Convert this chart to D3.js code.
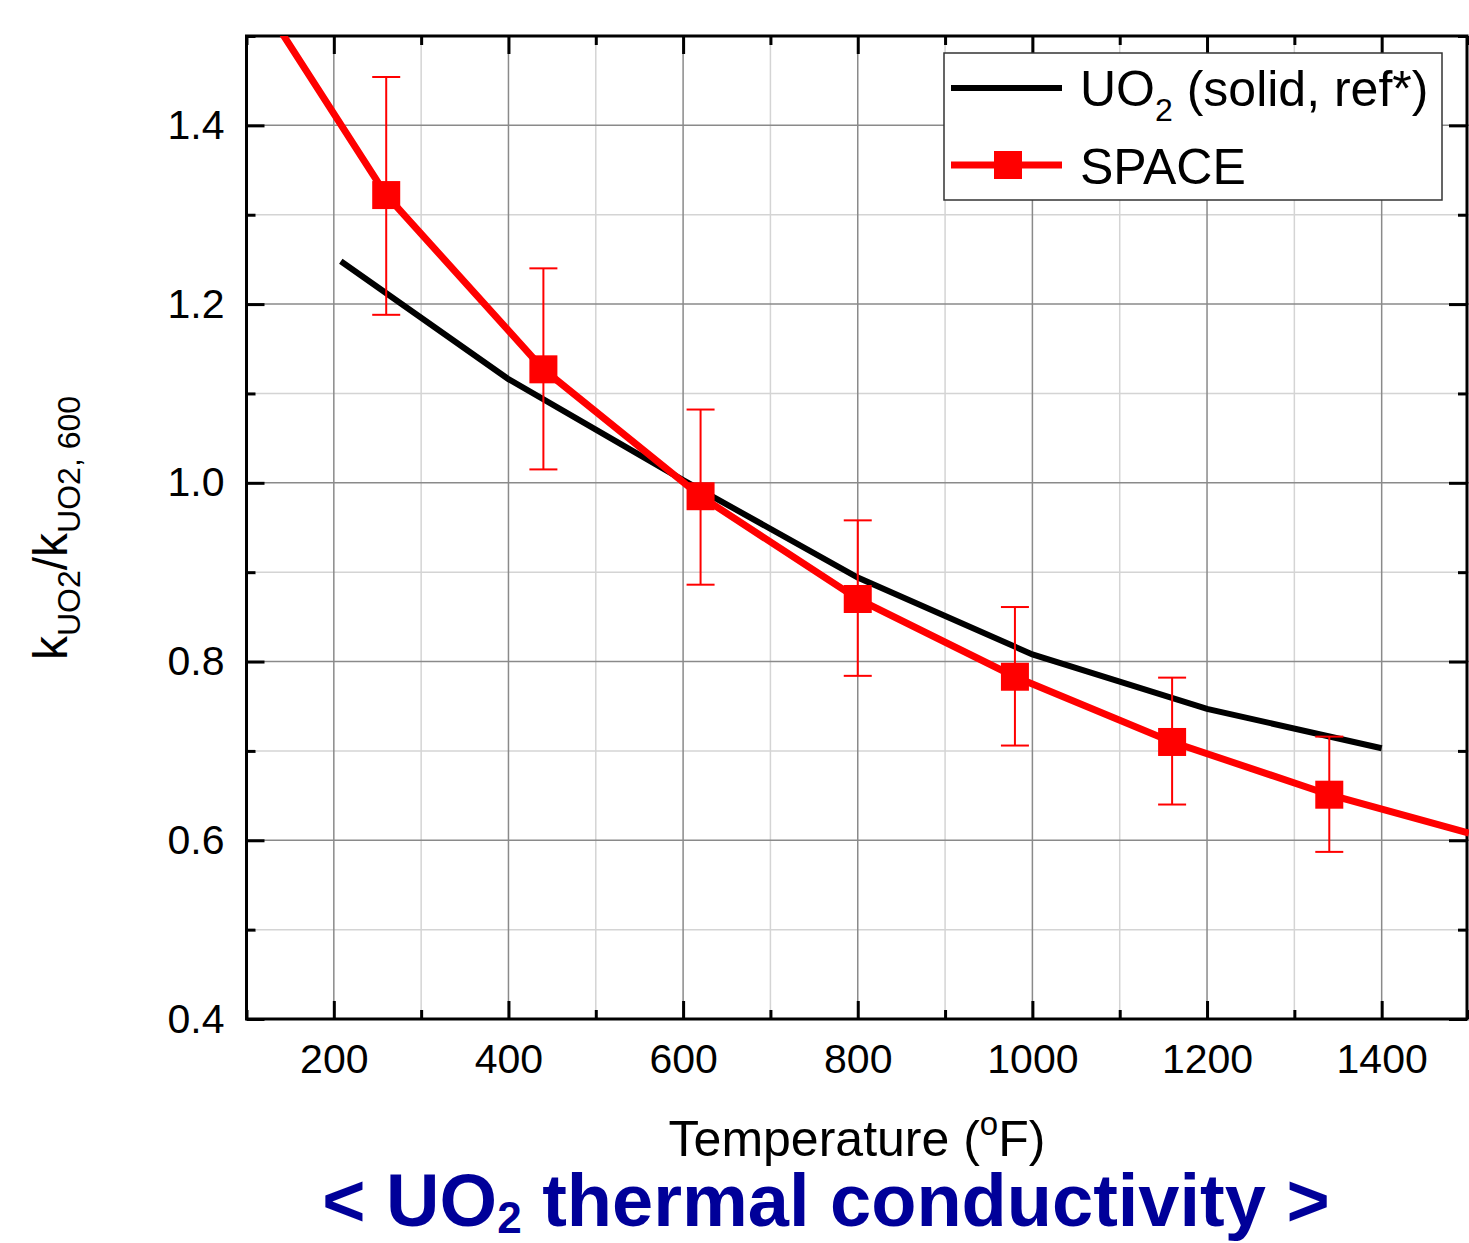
<!DOCTYPE html>
<html>
<head>
<meta charset="utf-8">
<script src="https://cdn.jsdelivr.net/npm/d3@7"></script>
<style>
  body { margin: 0; background: #fff; }
  svg { display: block; font-family: "Liberation Sans", Arial, sans-serif; }
</style>
</head>
<body>
<svg width="1469" height="1243"></svg>
<script>
// reference curve, UO2 solid
const refTemp = [208, 400, 600, 800, 1000, 1200, 1400];
const refK = [1.248, 1.116, 1.003, 0.894, 0.808, 0.747, 0.703];

// SPACE points with error bars
const spaceTemp = [260, 440, 620, 800, 980, 1160, 1340];
const spaceK = [1.322, 1.127, 0.985, 0.870, 0.783, 0.710, 0.651];
const spaceHi = [1.454, 1.240, 1.082, 0.958, 0.861, 0.782, 0.716];
const spaceLo = [1.188, 1.015, 0.886, 0.784, 0.706, 0.640, 0.587];

// SPACE line runs past the markers at both ends
const spaceLineTemp = [100, 260, 440, 620, 800, 980, 1160, 1340, 1500];
const spaceLineK = [1.565, 1.322, 1.127, 0.985, 0.870, 0.783, 0.710, 0.651, 0.608];

const xTicks = [200, 400, 600, 800, 1000, 1200, 1400];
const yTicks = [0.4, 0.6, 0.8, 1.0, 1.2, 1.4];
const xMinor = [100, 300, 500, 700, 900, 1100, 1300, 1500];
const yMinor = [0.5, 0.7, 0.9, 1.1, 1.3, 1.5];

const svg = d3.select("svg");
const pLeft = 246.5, pRight = 1469, pTop = 36, pBottom = 1019;

const x = d3.scaleLinear().domain([100, 1500]).range([pLeft, pRight]);
const y = d3.scaleLinear().domain([0.4, 1.5]).range([pBottom, pTop]);

svg.append("defs").append("clipPath").attr("id", "plotClip")
	.append("rect").attr("x", pLeft).attr("y", pTop)
	.attr("width", pRight - pLeft).attr("height", pBottom - pTop);

// grid
const grid = svg.append("g");
grid.selectAll(".vminor").data(xMinor.filter(d => d > 100 && d < 1500)).join("line")
	.attr("x1", d => x(d)).attr("x2", d => x(d)).attr("y1", pTop).attr("y2", pBottom)
	.attr("stroke", "#d4d4d4").attr("stroke-width", 1.5);
grid.selectAll(".hminor").data(yMinor.filter(d => d < 1.5)).join("line")
	.attr("y1", d => y(d)).attr("y2", d => y(d)).attr("x1", pLeft).attr("x2", pRight)
	.attr("stroke", "#d4d4d4").attr("stroke-width", 1.5);
grid.selectAll(".vmajor").data(xTicks).join("line")
	.attr("x1", d => x(d)).attr("x2", d => x(d)).attr("y1", pTop).attr("y2", pBottom)
	.attr("stroke", "#8a8a8a").attr("stroke-width", 1.5);
grid.selectAll(".hmajor").data(yTicks.filter(d => d > 0.4)).join("line")
	.attr("y1", d => y(d)).attr("y2", d => y(d)).attr("x1", pLeft).attr("x2", pRight)
	.attr("stroke", "#8a8a8a").attr("stroke-width", 1.5);

// axes with inward ticks on all sides
const axisStyle = g => {
	g.select(".domain").remove();
	g.selectAll(".tick line").attr("stroke", "#000").attr("stroke-width", 3);
	g.selectAll("text").attr("font-size", 41).attr("fill", "#000")
		.attr("font-family", "'Liberation Sans', Arial, sans-serif");
};

svg.append("g").attr("transform", `translate(0,${pBottom})`)
	.call(d3.axisBottom(x).tickValues(xTicks).tickSize(-18).tickFormat(d3.format("d")))
	.call(axisStyle)
	.selectAll("text").attr("dy", 0).attr("y", 54);
svg.append("g").attr("transform", `translate(0,${pBottom})`)
	.call(d3.axisBottom(x).tickValues(xMinor).tickSize(-9).tickFormat(""))
	.call(axisStyle);
svg.append("g").attr("transform", `translate(0,${pTop})`)
	.call(d3.axisTop(x).tickValues(xTicks).tickSize(-18).tickFormat(""))
	.call(axisStyle);
svg.append("g").attr("transform", `translate(0,${pTop})`)
	.call(d3.axisTop(x).tickValues(xMinor).tickSize(-9).tickFormat(""))
	.call(axisStyle);

svg.append("g").attr("transform", `translate(${pLeft},0)`)
	.call(d3.axisLeft(y).tickValues(yTicks).tickSize(-18).tickPadding(22).tickFormat(d3.format(".1f")))
	.call(axisStyle);
svg.append("g").attr("transform", `translate(${pLeft},0)`)
	.call(d3.axisLeft(y).tickValues(yMinor).tickSize(-9).tickFormat(""))
	.call(axisStyle);
svg.append("g").attr("transform", `translate(${pRight - 2},0)`)
	.call(d3.axisRight(y).tickValues(yTicks).tickSize(-18).tickFormat(""))
	.call(axisStyle);
svg.append("g").attr("transform", `translate(${pRight - 2},0)`)
	.call(d3.axisRight(y).tickValues(yMinor).tickSize(-9).tickFormat(""))
	.call(axisStyle);

// frame
svg.append("rect").attr("x", pLeft).attr("y", pTop)
	.attr("width", pRight - pLeft - 2).attr("height", pBottom - pTop)
	.attr("fill", "none").attr("stroke", "#000").attr("stroke-width", 3);

// data
const plot = svg.append("g").attr("clip-path", "url(#plotClip)");
const line = d3.line().x(d => x(d[0])).y(d => y(d[1]));

plot.append("path")
	.datum(refTemp.map((t, i) => [t, refK[i]]))
	.attr("d", line).attr("fill", "none").attr("stroke", "#000").attr("stroke-width", 6);

plot.append("path")
	.datum(spaceLineTemp.map((t, i) => [t, spaceLineK[i]]))
	.attr("d", line).attr("fill", "none").attr("stroke", "#ff0000").attr("stroke-width", 7);

const pts = spaceTemp.map((t, i) => ({ t, k: spaceK[i], hi: spaceHi[i], lo: spaceLo[i] }));
const err = plot.append("g").attr("stroke", "#ff0000").attr("stroke-width", 2);
err.selectAll(".bar").data(pts).join("line")
	.attr("x1", d => x(d.t)).attr("x2", d => x(d.t))
	.attr("y1", d => y(d.hi)).attr("y2", d => y(d.lo));
err.selectAll(".capHi").data(pts).join("line")
	.attr("x1", d => x(d.t) - 14).attr("x2", d => x(d.t) + 14)
	.attr("y1", d => y(d.hi)).attr("y2", d => y(d.hi));
err.selectAll(".capLo").data(pts).join("line")
	.attr("x1", d => x(d.t) - 14).attr("x2", d => x(d.t) + 14)
	.attr("y1", d => y(d.lo)).attr("y2", d => y(d.lo));

plot.selectAll(".marker").data(pts).join("rect")
	.attr("x", d => x(d.t) - 14).attr("y", d => y(d.k) - 14)
	.attr("width", 28).attr("height", 28).attr("fill", "#ff0000");

// legend
const legend = svg.append("g");
legend.append("rect").attr("x", 944).attr("y", 53).attr("width", 498).attr("height", 147)
	.attr("fill", "#fff").attr("stroke", "#333").attr("stroke-width", 1.5);
legend.append("line").attr("x1", 951).attr("x2", 1062).attr("y1", 88).attr("y2", 88)
	.attr("stroke", "#000").attr("stroke-width", 6);
legend.append("line").attr("x1", 951).attr("x2", 1062).attr("y1", 165).attr("y2", 165)
	.attr("stroke", "#ff0000").attr("stroke-width", 7);
legend.append("rect").attr("x", 994).attr("y", 151).attr("width", 28).attr("height", 28)
	.attr("fill", "#ff0000");
const l1 = legend.append("text").attr("x", 1080).attr("y", 106).attr("font-size", 50);
l1.append("tspan").text("UO");
l1.append("tspan").text("2").attr("font-size", 32).attr("dy", 15);
l1.append("tspan").text(" (solid, ref*)").attr("dy", -15);
legend.append("text").attr("x", 1080).attr("y", 184).attr("font-size", 50).text("SPACE");

// axis titles
const xt = svg.append("text").attr("x", 857).attr("y", 1156)
	.attr("text-anchor", "middle").attr("font-size", 50);
xt.append("tspan").text("Temperature (");
xt.append("tspan").text("o").attr("font-size", 33).attr("dy", -21);
xt.append("tspan").text("F)").attr("dy", 21);

const yt = svg.append("text")
	.attr("transform", "translate(67,528) rotate(-90)")
	.attr("text-anchor", "middle").attr("font-size", 48);
yt.append("tspan").text("k");
yt.append("tspan").text("UO2").attr("font-size", 32).attr("dy", 13);
yt.append("tspan").text("/k").attr("dy", -13);
yt.append("tspan").text("UO2, 600").attr("font-size", 32).attr("dy", 13);

// caption
const cap = svg.append("text").attr("x", 826).attr("y", 1226)
	.attr("text-anchor", "middle").attr("font-size", 74).attr("font-weight", "bold")
	.attr("fill", "#000099")
	.attr("font-family", "'Liberation Sans Narrow', 'Liberation Sans', Arial, sans-serif");
cap.append("tspan").text("< UO");
cap.append("tspan").text("2").attr("font-size", 44).attr("dy", 7);
cap.append("tspan").text(" thermal conductivity >").attr("dy", -7);
</script>
</body>
</html>
